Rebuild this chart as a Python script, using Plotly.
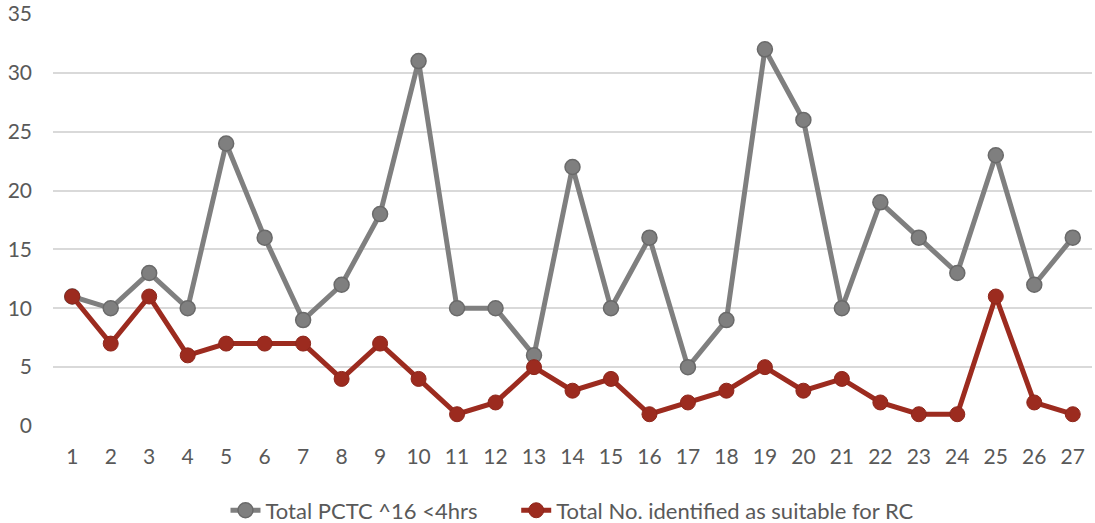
import plotly.graph_objects as go

categories = [str(i) for i in range(1, 28)]
total_pctc = [11, 10, 13, 10, 24, 16, 9, 12, 18, 31, 10, 10, 6, 22, 10, 16, 5, 9, 32, 26, 10, 19, 16, 13, 23, 12, 16]
suitable_rc = [11, 7, 11, 6, 7, 7, 7, 4, 7, 4, 1, 2, 5, 3, 4, 1, 2, 3, 5, 3, 4, 2, 1, 1, 11, 2, 1]
y_ticks = [0, 5, 10, 15, 20, 25, 30, 35]

FONT = "Lato, 'Open Sans', sans-serif"
TXT = "#595959"

fig = go.Figure()
fig.add_trace(go.Scatter(
    x=categories, y=total_pctc, name="Total PCTC ^16 <4hrs" + "\u00a0" * 6,
    mode="lines+markers",
    line=dict(color="#7f7f7f", width=5),
    marker=dict(size=15, color="#7f7f7f", line=dict(color="#6a6a6a", width=1.5)),
))
fig.add_trace(go.Scatter(
    x=categories, y=suitable_rc, name="Total No. identified as suitable for RC",
    mode="lines+markers",
    line=dict(color="#9c2b1f", width=5),
    marker=dict(size=15, color="#9c2b1f", line=dict(color="#8e261b", width=1)),
))

fig.update_layout(
    width=1095, height=523,
    margin=dict(l=53, r=3, t=14, b=97, autoexpand=False),
    paper_bgcolor="white", plot_bgcolor="white",
    font=dict(family=FONT, size=21, color=TXT),
    showlegend=True,
    legend=dict(orientation="h", x=0.5, xanchor="center", y=-0.205, yanchor="middle",
                font=dict(size=22, color=TXT), tracegroupgap=0),
    xaxis=dict(type="category", range=[-0.5, 26.5], showgrid=False, zeroline=False,
               showline=False, ticks="", tickfont=dict(size=21, color=TXT), ticklabelstandoff=16,
               automargin=False),
    yaxis=dict(range=[0, 35], tickvals=y_ticks, showgrid=True, gridcolor="#d9d9d9",
               gridwidth=1.5, zeroline=False, showline=False, ticks="",
               tickfont=dict(size=21, color=TXT), ticklabelstandoff=20, automargin=False),
)

fig.write_html("out.html", config={"displayModeBar": False},
               post_script="document.body.style.margin='0';")
